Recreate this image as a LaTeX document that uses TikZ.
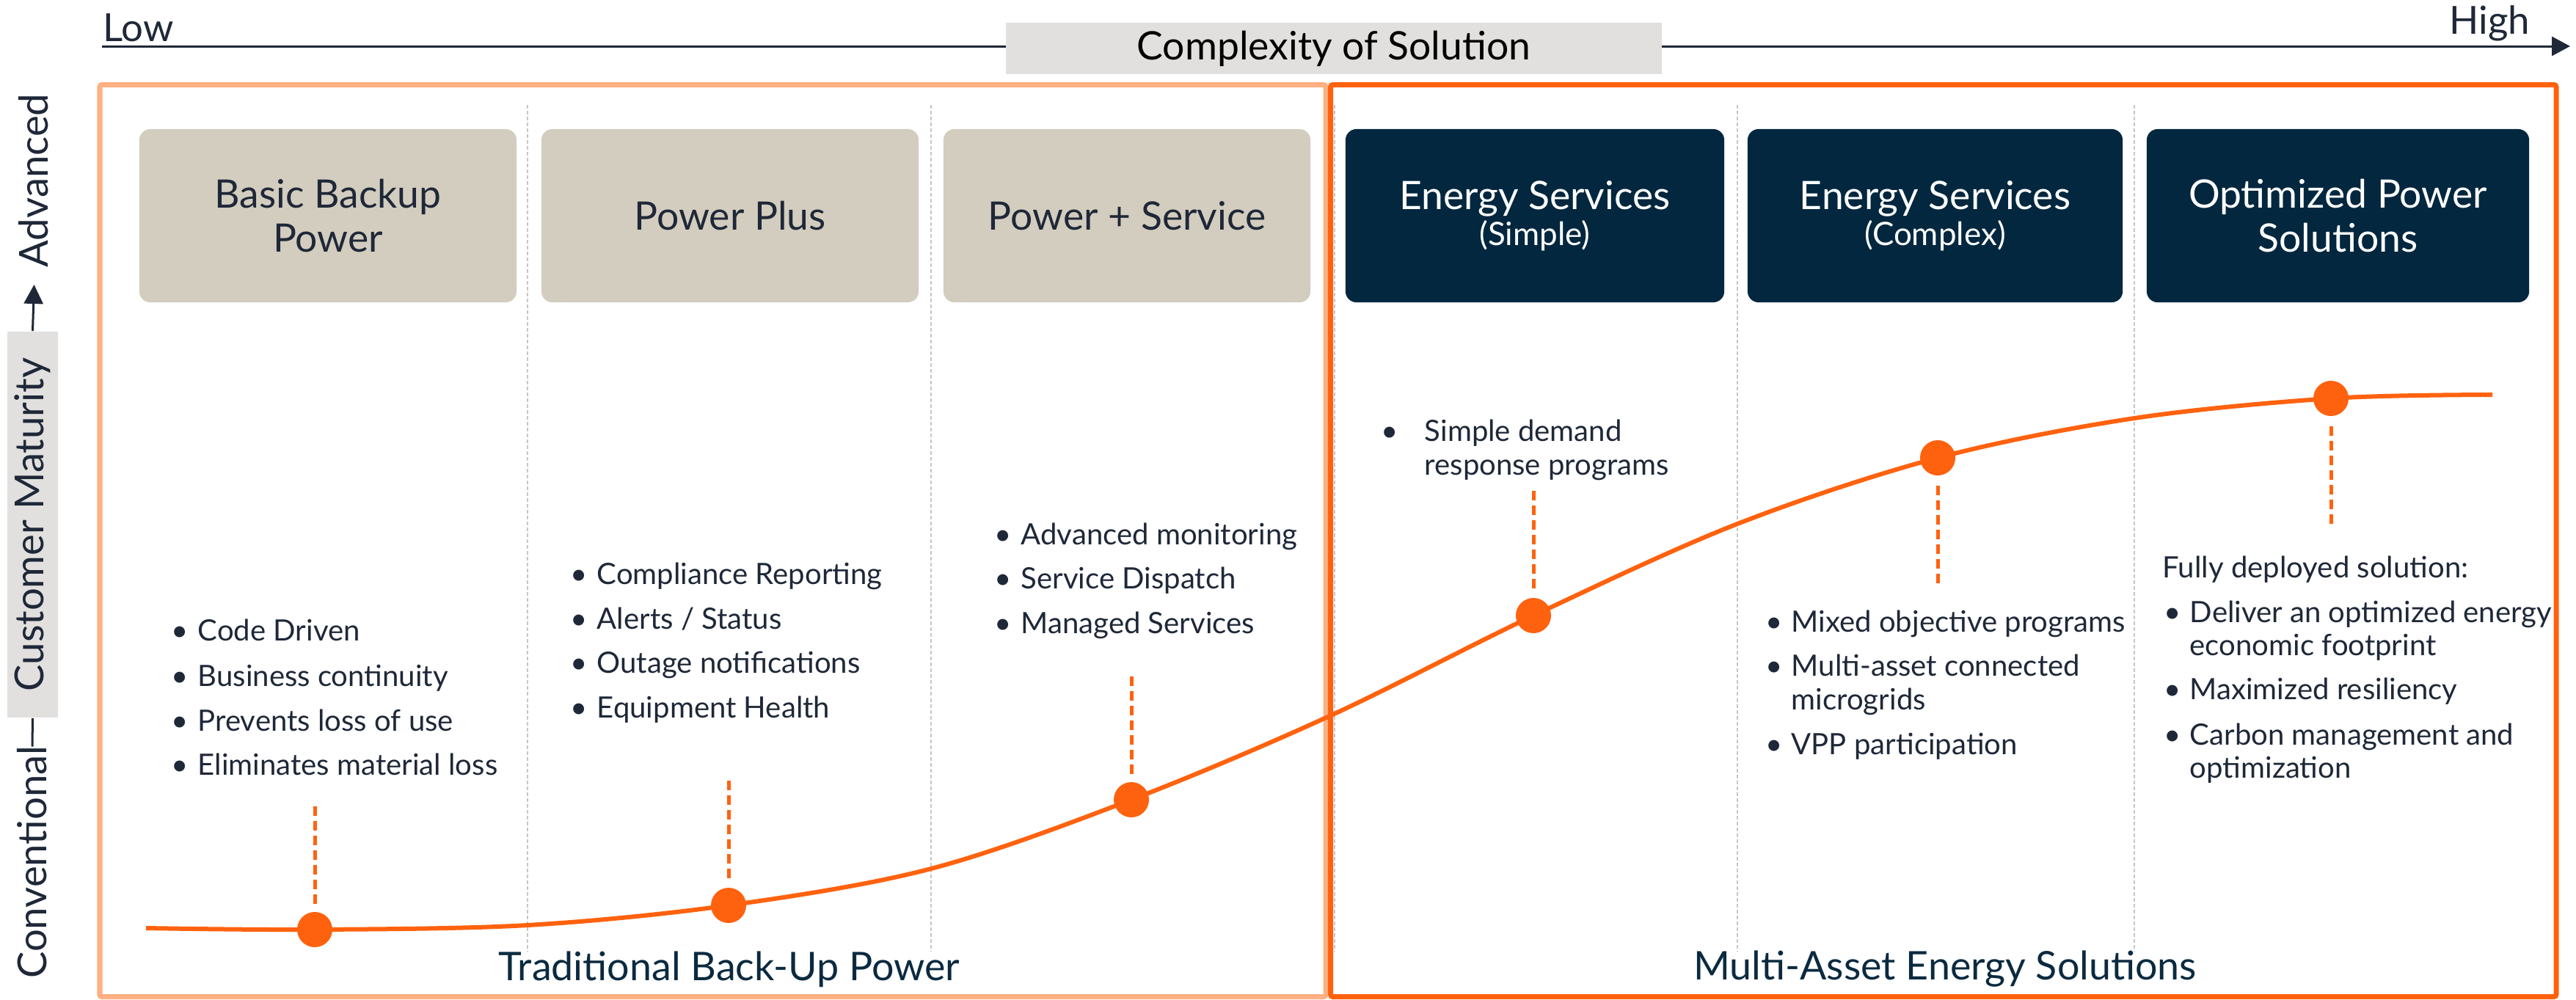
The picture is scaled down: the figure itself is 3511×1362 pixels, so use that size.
\documentclass[tikz,border=0pt]{standalone}
\usepackage{fontspec}
\setmainfont{Lato}
\usetikzlibrary{arrows.meta}
\definecolor{navy}{HTML}{1F2838}
\definecolor{deepnavy}{HTML}{0B2A40}
\definecolor{boxdark}{HTML}{02273F}
\definecolor{beige}{HTML}{D3CDBF}
\definecolor{orng}{HTML}{FF620F}
\definecolor{lorng}{HTML}{FFAF82}
\definecolor{lgray}{HTML}{E1E0DE}
\definecolor{dgray}{HTML}{C6C6C6}
\newcommand{\fs}[2]{\fontsize{#1}{#2}\selectfont}
\newcommand{\bul}[1]{\makebox[#1][l]{\textbullet}}
\begin{document}
\begin{tikzpicture}[x=0.01cm,y=-0.01cm,
  txt/.style={font=\fs{11.4}{13.6}, text=navy, inner sep=0pt, anchor=base west},
  hbox/.style={rounded corners=0.15cm, inner sep=0pt, align=center, font=\fs{15.2}{16.8}, minimum height=2.36cm},
  beigebox/.style={hbox, fill=beige, text=navy},
  darkbox/.style={hbox, fill=boxdark, text=white},
  dot/.style={circle, fill=orng, minimum size=0.48cm, inner sep=0pt},
  odash/.style={orng, line width=0.05cm, dash pattern=on 0.13cm off 0.07cm},
  divider/.style={dgray, line width=0.025cm, dash pattern=on 0.05cm off 0.03cm},
  axisline/.style={navy, line width=0.03cm},
  frame/.style={line width=0.07cm, rounded corners=0.03cm},
  vlabel/.style={rotate=90, font=\fs{15.5}{18}, text=navy, inner sep=0pt},
  biglabel/.style={font=\fs{15.3}{18}, text=deepnavy, inner sep=0pt}
]
\useasboundingbox (0,0) rectangle (3511,1362);

% top axis
\coordinate (ax0) at (139,63);
\coordinate (ax1) at (3503,63);
\draw[axisline,-{Triangle[length=0.25cm,width=0.26cm]}] (ax0) -- (ax1);
\node[font=\fs{15}{18}, text=navy, inner sep=0pt, anchor=base west] (low) at (140,56) {Low};
\node[font=\fs{15}{18}, text=navy, inner sep=0pt, anchor=base east] (high) at (3449,46) {High};
\node[fill=lgray, minimum width=8.94cm, minimum height=0.70cm, inner sep=0pt, font=\fs{15.2}{18}, text=black] (cplx) at (1818,66) {Complexity of Solution};

% left axis
\node[vlabel] (adv) at (46,246) {Advanced};
\node[vlabel, fill=lgray, minimum width=5.26cm, minimum height=0.69cm] (cm) at (44.5,715) {Customer Maturity};
\node[vlabel] (conv) at (44,1175) {Conventional};
\coordinate (upt) at (46.5,388);
\draw[axisline,-{Triangle[length=0.26cm,width=0.26cm]}] (cm.east) -- (upt);
\draw[axisline] (cm.west) -- ([yshift=-0.02cm]conv.east);

% frames
\draw[frame, lorng] (136,115.5) rectangle (1807,1358.5);
\draw[frame, orng] (1813.5,115.5) rectangle (3484,1358.5);

% dividers
\foreach \x/\n in {719/a,1269/b,1819/c,2368/d,2909/e}{
  \coordinate (dv\n0) at (\x,143);
  \coordinate (dv\n1) at (\x,1297);
  \draw[divider] (dv\n0) -- (dv\n1);
}

% header boxes
\node[beigebox, minimum width=5.14cm] (b1) at (447,294) {Basic Backup\\Power};
\node[beigebox, minimum width=5.14cm] (b2) at (995,294) {Power Plus};
\node[beigebox, minimum width=5.00cm] (b3) at (1536,294) {Power + Service};
\node[darkbox, minimum width=5.16cm] (b4) at (2092,294) {Energy Services\\[-0.1cm]{\fs{12.5}{14}(Simple)}};
\node[darkbox, minimum width=5.11cm] (b5) at (2637.5,294) {Energy Services\\[-0.1cm]{\fs{12.5}{14}(Complex)}};
\node[darkbox, minimum width=5.21cm] (b6) at (3186.5,294) {Optimized Power\\Solutions};

% bottom labels
\node[biglabel] (trad) at (994,1321) {Traditional Back-Up Power};
\node[biglabel] (multi) at (2651,1321) {Multi-Asset Energy Solutions};

% curve
\draw[orng, line width=0.06cm] plot[smooth, tension=0.55] coordinates {(199,1265) (429,1267) (719,1261) (993,1234) (1269,1184) (1542,1090) (1812,976) (2090,839) (2368,714) (2641,624) (2909,570) (3177,543) (3397,538)};

% dots
\node[dot] (d1) at (429,1267) {};
\node[dot] (d2) at (993,1234) {};
\node[dot] (d3) at (1542,1090) {};
\node[dot] (d4) at (2090,839) {};
\node[dot] (d5) at (2641,624) {};
\node[dot] (d6) at (3177,543) {};

% dashed leaders
\coordinate (e1) at (429,1099);  \draw[odash] (e1) -- ([yshift=0.06cm]d1.north);
\coordinate (e2) at (993,1064);  \draw[odash] (e2) -- ([yshift=0.09cm]d2.north);
\coordinate (e3) at (1542,922);  \draw[odash] (e3) -- ([yshift=0.06cm]d3.north);
\coordinate (e4) at (2090,669);  \draw[odash] (e4) -- ([yshift=0.07cm]d4.north);
\coordinate (e5) at (2641,795);  \draw[odash] (e5) -- ([yshift=-0.09cm]d5.south);
\coordinate (e6) at (3177,714);  \draw[odash] (e6) -- ([yshift=-0.09cm]d6.south);

% column 1
\node[txt] (c1a) at (233,873) {\bul{0.36cm}Code Driven};
\node[txt] (c1b) at (233,935) {\bul{0.36cm}Business continuity};
\node[txt] (c1c) at (233,996) {\bul{0.36cm}Prevents loss of use};
\node[txt] (c1d) at (233,1056) {\bul{0.36cm}Eliminates material loss};
% column 2
\node[txt] (c2a) at (777,796) {\bul{0.36cm}Compliance Reporting};
\node[txt] (c2b) at (777,857) {\bul{0.36cm}Alerts / Status};
\node[txt] (c2c) at (777,917) {\bul{0.36cm}Outage notifications};
\node[txt] (c2d) at (777,978) {\bul{0.36cm}Equipment Health};
% column 3
\node[txt] (c3a) at (1355,742) {\bul{0.36cm}Advanced monitoring};
\node[txt] (c3b) at (1355,802) {\bul{0.36cm}Service Dispatch};
\node[txt] (c3c) at (1355,863) {\bul{0.36cm}Managed Services};
% column 4
\node[txt] (c4a) at (1882,601) {\bul{0.59cm}Simple demand};
\node[txt] (c4b) at (1941,647) {response programs};
% column 5
\node[txt] (c5a) at (2406,861) {\bul{0.35cm}Mixed objective programs};
\node[txt] (c5b) at (2406,921) {\bul{0.35cm}Multi-asset connected};
\node[txt] (c5c) at (2441,967) {microgrids};
\node[txt] (c5d) at (2406,1028) {\bul{0.35cm}VPP participation};
% column 6
\node[txt] (c6h) at (2947,787) {Fully deployed solution:};
\node[txt] (c6a) at (2949,848) {\bul{0.35cm}Deliver an optimized energy};
\node[txt] (c6b) at (2984,893) {economic footprint};
\node[txt] (c6c) at (2949,953) {\bul{0.35cm}Maximized resiliency};
\node[txt] (c6d) at (2949,1015) {\bul{0.35cm}Carbon management and};
\node[txt] (c6e) at (2984,1060) {optimization};
\end{tikzpicture}
\end{document}
